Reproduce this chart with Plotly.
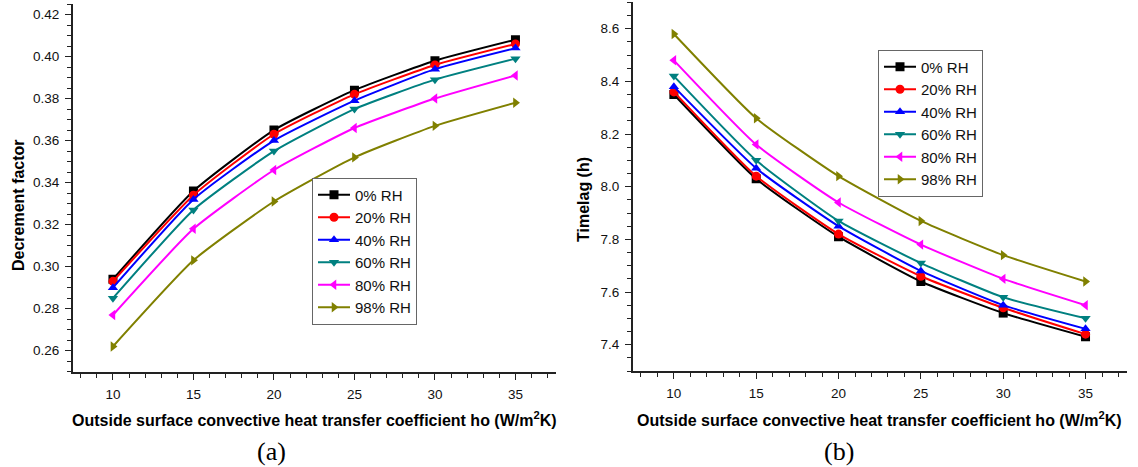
import plotly.graph_objects as go

x = [10, 15, 20, 25, 30, 35]
series_names = ["0% RH", "20% RH", "40% RH", "60% RH", "80% RH", "98% RH"]

decrement = {
    "0% RH":  [0.294, 0.336, 0.365, 0.384, 0.398, 0.408],
    "20% RH": [0.293, 0.334, 0.363, 0.382, 0.396, 0.406],
    "40% RH": [0.290, 0.332, 0.360, 0.379, 0.394, 0.404],
    "60% RH": [0.285, 0.327, 0.355, 0.375, 0.389, 0.399],
    "80% RH": [0.277, 0.318, 0.346, 0.366, 0.380, 0.391],
    "98% RH": [0.262, 0.303, 0.331, 0.352, 0.367, 0.378],
}
timelag = {
    "0% RH":  [8.35, 8.03, 7.81, 7.64, 7.52, 7.43],
    "20% RH": [8.36, 8.04, 7.82, 7.66, 7.54, 7.44],
    "40% RH": [8.38, 8.07, 7.85, 7.68, 7.55, 7.46],
    "60% RH": [8.42, 8.10, 7.87, 7.71, 7.58, 7.50],
    "80% RH": [8.48, 8.16, 7.94, 7.78, 7.65, 7.55],
    "98% RH": [8.58, 8.26, 8.04, 7.87, 7.74, 7.64],
}
colors = ["#000000", "#FF0000", "#0000FF", "#008080", "#FF00FF", "#808000"]
symbols = ["square", "circle", "triangle-up", "triangle-down", "triangle-left", "triangle-right"]

W, H = 1138, 467
fig = go.Figure()

for i, name in enumerate(series_names):
    fig.add_trace(go.Scatter(
        x=x, y=decrement[name], name=name, mode="lines+markers",
        line=dict(color=colors[i], width=2, shape="spline", smoothing=0.5),
        marker=dict(symbol=symbols[i], size=9, color=colors[i]),
        xaxis="x", yaxis="y", legend="legend"))
for i, name in enumerate(series_names):
    fig.add_trace(go.Scatter(
        x=x, y=timelag[name], name=name, mode="lines+markers",
        line=dict(color=colors[i], width=2, shape="spline", smoothing=0.5),
        marker=dict(symbol=symbols[i], size=9, color=colors[i]),
        xaxis="x2", yaxis="y2", legend="legend2"))

tickfont = dict(family="Arial, Liberation Sans", size=13.5, color="#111111")
axcommon = dict(showgrid=False, zeroline=False, showline=True, linecolor="#222222",
                linewidth=1.6, ticks="outside", ticklen=6, tickwidth=1.3,
                tickcolor="#222222", tickfont=tickfont, ticklabelstandoff=3,
                minor=dict(ticks="outside", ticklen=4, tickwidth=1.2, tickcolor="#222222"))

def px(v):
    return v / W
def py(v):
    return 1 - v / H

legfont = dict(family="Arial, Liberation Sans", size=15, color="#111111")
fig.update_layout(
    width=W, height=H, margin=dict(l=0, r=0, t=0, b=0),
    paper_bgcolor="white", plot_bgcolor="white",
    xaxis=dict(domain=[px(72.7), px(555.7)], range=[7.5, 37.5], dtick=5, tick0=10,
               anchor="y", **axcommon),
    yaxis=dict(domain=[py(371.7), py(4)], range=[0.25, 0.425], dtick=0.02, tick0=0.26,
               tickformat=".2f", anchor="x", **axcommon),
    xaxis2=dict(domain=[px(632.7), px(1126.7)], range=[7.5, 37.5], dtick=5, tick0=10,
                anchor="y2", **axcommon),
    yaxis2=dict(domain=[py(371), py(2.4)], range=[7.3, 8.7], dtick=0.2, tick0=7.4,
                tickformat=".1f", anchor="x2", **axcommon),
    legend=dict(x=px(312), y=py(251), xanchor="left", yanchor="middle",
                bordercolor="#666666", borderwidth=1, bgcolor="white",
                font=legfont, tracegroupgap=0, itemwidth=32),
    legend2=dict(x=px(878), y=py(123), xanchor="left", yanchor="middle",
                 bordercolor="#666666", borderwidth=1, bgcolor="white",
                 font=legfont, tracegroupgap=0, itemwidth=32),
)

title_font = dict(family="Arial, Liberation Sans", size=16, color="black")
xtitle_font = dict(family="Arial, Liberation Sans", size=16, color="black")
xtitle = "<b>Outside surface convective heat transfer coefficient ho (W/m<sup>2</sup>K)</b>"
common = dict(xref="paper", yref="paper", showarrow=False, xanchor="center", yanchor="middle")
serif = dict(family="Liberation Serif, Times New Roman", size=26, color="black")
annotations = [
    dict(text="<b>Decrement factor</b>", x=px(18), y=py(205), textangle=-90,
         font=title_font, **common),
    dict(text="<b>Timelag (h)</b>", x=px(583), y=py(200), textangle=-90,
         font=title_font, **common),
    dict(text=xtitle, x=px(314), y=py(419), font=xtitle_font, **common),
    dict(text=xtitle, x=px(879), y=py(419), font=xtitle_font, **common),
    dict(text="(a)", x=px(271), y=py(451), font=serif, **common),
    dict(text="(b)", x=px(839), y=py(451), font=serif, **common),
]
fig.update_layout(annotations=annotations)

fig.write_html("out.html")
